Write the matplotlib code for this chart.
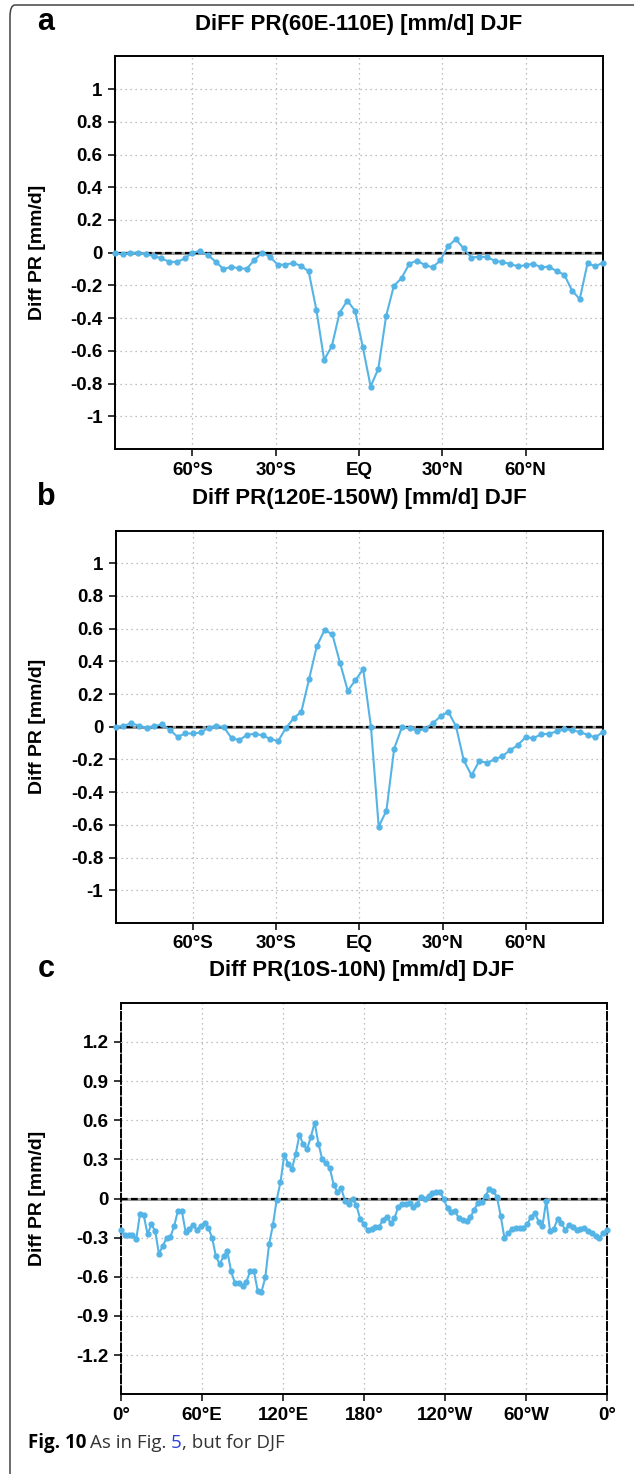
import numpy as np
import matplotlib.pyplot as plt
from matplotlib.patches import FancyBboxPatch

# T42 gaussian latitudes (approx.) and longitudes with cyclic point
lat = np.linspace(-87.86, 87.86, 64)
lon = np.arange(129) * 2.8125

pr_a = [-0.004, -0.01, 0.0, 0.0, -0.01, -0.02, -0.035, -0.055, -0.057, -0.035,
        0.0, 0.01, -0.015, -0.055, -0.10, -0.087, -0.095, -0.098, -0.045, 0.0,
        -0.025, -0.073, -0.073, -0.063, -0.08, -0.114, -0.35, -0.655, -0.57, -0.366,
        -0.293, -0.356, -0.578, -0.818, -0.708, -0.387, -0.203, -0.155, -0.067, -0.049,
        -0.075, -0.09, -0.047, 0.039, 0.083, 0.026, -0.03, -0.024, -0.026, -0.049,
        -0.057, -0.069, -0.083, -0.077, -0.067, -0.09, -0.085, -0.112, -0.134, -0.232,
        -0.283, -0.065, -0.083, -0.061]

pr_b = [0.0, 0.004, 0.022, 0.006, -0.006, 0.002, 0.016, -0.02, -0.061, -0.041,
        -0.041, -0.035, -0.006, 0.006, -0.004, -0.071, -0.081, -0.049, -0.043, -0.053,
        -0.075, -0.088, -0.008, 0.051, 0.092, 0.291, 0.493, 0.591, 0.566, 0.391,
        0.22, 0.285, 0.352, 0.0, -0.611, -0.513, -0.134, -0.004, -0.008, -0.024,
        -0.014, 0.022, 0.063, 0.092, 0.002, -0.206, -0.297, -0.21, -0.22, -0.2,
        -0.179, -0.143, -0.112, -0.063, -0.071, -0.045, -0.043, -0.029, -0.016, -0.02,
        -0.033, -0.049, -0.065, -0.031]

pr_c = [-0.245, -0.283, -0.283, -0.276, -0.314, -0.12, -0.13, -0.273, -0.199, -0.25,
        -0.424, -0.363, -0.304, -0.294, -0.212, -0.092, -0.092, -0.253, -0.23, -0.204,
        -0.24, -0.209, -0.186, -0.227, -0.301, -0.444, -0.503, -0.442, -0.403, -0.559,
        -0.646, -0.646, -0.672, -0.641, -0.557, -0.557, -0.705, -0.715, -0.605, -0.35,
        -0.206, -0.01, 0.124, 0.333, 0.268, 0.225, 0.34, 0.488, 0.414, 0.378,
        0.472, 0.582, 0.421, 0.299, 0.271, 0.232, 0.107, 0.051, 0.077, -0.016,
        -0.042, -0.005, -0.051, -0.157, -0.197, -0.242, -0.233, -0.218, -0.217, -0.162,
        -0.138, -0.189, -0.153, -0.066, -0.043, -0.041, -0.032, -0.066, -0.042, 0.009,
        -0.003, 0.016, 0.042, 0.052, 0.05, -0.003, -0.076, -0.105, -0.097, -0.153,
        -0.162, -0.17, -0.144, -0.088, -0.032, -0.03, 0.021, 0.074, 0.054, 0.014,
        -0.133, -0.305, -0.264, -0.233, -0.228, -0.225, -0.226, -0.195, -0.14, -0.11,
        -0.178, -0.21, -0.016, -0.252, -0.23, -0.157, -0.189, -0.24, -0.2, -0.215,
        -0.244, -0.237, -0.228, -0.251, -0.265, -0.286, -0.306, -0.265, -0.245]

lat_ticks = [-60, -30, 0, 30, 60]
lat_labels = ['60°S', '30°S', 'EQ', '30°N', '60°N']
lon_ticks = [0, 60, 120, 180, 240, 300, 360]
lon_labels = ['0°', '60°E', '120°E', '180°', '120°W', '60°W', '0°']
yticks_ab = [1, 0.8, 0.6, 0.4, 0.2, 0, -0.2, -0.4, -0.6, -0.8, -1]
yticks_c = [1.2, 0.9, 0.6, 0.3, 0, -0.3, -0.6, -0.9, -1.2]

titles = ['DiFF PR(60E-110E) [mm/d] DJF', 'Diff PR(120E-150W) [mm/d] DJF',
          'Diff PR(10S-10N) [mm/d] DJF']

plt.rcParams['font.family'] = ['Liberation Sans', 'DejaVu Sans']
plt.rcParams['font.weight'] = 'bold'

W, H = 634, 1474
fig = plt.figure(figsize=(W / 100, H / 100), dpi=100)

# rounded frame around the figure
frame = FancyBboxPatch((10 / W, -0.05), 1.2, 1.05 - 5 / H,
                       boxstyle='round,pad=0,rounding_size=0.008',
                       transform=fig.transFigure, fill=False,
                       edgecolor='#444444', linewidth=1.1)
fig.patches.append(frame)

line_col = '#55b4e6'


def add_ax(l, r, t, b):
    return fig.add_axes([l / W, 1 - b / H, (r - l) / W, (b - t) / H])


def style(ax, x, y, xlim, ylim, xt, xl, yt, letter, title, top_px, left_px):
    ax.set_xlim(*xlim)
    ax.set_ylim(*ylim)
    ax.set_xticks(xt)
    ax.set_xticklabels(xl, fontsize=13.5, fontweight='bold')
    ax.set_yticks(yt)
    ax.set_yticklabels([f'{v:g}' for v in yt], fontsize=13.5, fontweight='bold')
    ax.tick_params(direction='out', length=5, width=1.1, pad=4)
    ax.grid(True, color='#aaaaaa', linestyle=(0, (1, 3)), linewidth=0.9)
    for s in ax.spines.values():
        s.set_linewidth(1.4)
    ax.axhline(0, color='#999999', lw=2.2, zorder=2)
    ax.axhline(0, color='black', lw=1.6, ls=(0, (3, 1.5)), zorder=3)
    ax.plot(x, y, '-o', color=line_col, lw=1.5, ms=3.5, zorder=4, clip_on=False)
    fig.text((left_px + 603) / 2 / W, 1 - (top_px - 32) / H, title,
             ha='center', va='center', fontsize=16, fontweight='bold')
    fig.text(46 / W, 1 - (top_px - 34) / H, letter, ha='center', va='center',
             fontsize=22, fontweight='bold')
    fig.text(38 / W, 1 - (top_px + 196) / H, 'Diff PR [mm/d]', rotation=90,
             ha='center', va='center', fontsize=14, fontweight='bold')


ax1 = add_ax(115, 603, 56.3, 449.1)
style(ax1, lat, pr_a, (-87.86, 87.86), (-1.2, 1.2), lat_ticks, lat_labels,
      yticks_ab, 'a', titles[0], 56.3, 115)

ax2 = add_ax(115.7, 603, 530.5, 923)
style(ax2, lat, pr_b, (-87.86, 87.86), (-1.2, 1.2), lat_ticks, lat_labels,
      yticks_ab, 'b', titles[1], 530.5, 115.7)

ax3 = add_ax(121, 607, 1002.7, 1394.3)
style(ax3, lon, pr_c, (0, 360), (-1.5, 1.5), lon_ticks, lon_labels,
      yticks_c, 'c', titles[2], 1002.7, 121)
for side in ['left', 'right']:
    ax3.spines[side].set_linestyle((0, (4, 1.5)))

# caption
cy = 1 - 1443 / H
t1 = fig.text(28 / W, cy, 'Fig. 10', fontsize=13.5, fontweight='bold',
              family='Open Sans', va='center')
fig.canvas.draw()
r = fig.canvas.get_renderer()
x0 = t1.get_window_extent(r).x1 / W + 4 / W
parts = [('As in Fig.', '#333333', 4), ('5', '#2a3fd8', 0), (', but for DJF', '#333333', 0)]
for txt, col, gap in parts:
    t = fig.text(x0, cy, txt, fontsize=13.5, fontweight='normal',
                 family='Open Sans', color=col, va='center')
    x0 = t.get_window_extent(r).x1 / W + gap / W

fig.savefig('out.png', dpi=100)
